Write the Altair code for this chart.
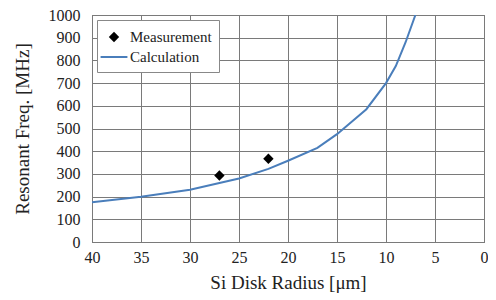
import altair as alt
import pandas as pd

# Calculation curve (radius in um, resonant frequency in MHz)
calc_radius = [40, 35, 30, 25, 22, 20, 17, 15, 12, 10, 9, 8, 7]
calc_freq = [175, 199, 230, 280, 322, 358, 415, 475, 585, 700, 775, 880, 1000]

# Measurements
meas_radius = [27, 22]
meas_freq = [293, 367]

series_names = ["Measurement", "Calculation"]
x_ticks = [0, 5, 10, 15, 20, 25, 30, 35, 40]
y_ticks = [0, 100, 200, 300, 400, 500, 600, 700, 800, 900, 1000]

LINE_COLOR = "#4a7ebb"
FONT = "'Liberation Serif', 'Times New Roman', Times, serif"
TEXT = "#222222"
DIAMOND = "M-0.6,0L0,-0.6L0.6,0L0,0.6Z"
DASH = "M-1.55,0H1.55"

calc = pd.DataFrame({"r": calc_radius, "f": calc_freq, "series": "Calculation"})
meas = pd.DataFrame({"r": meas_radius, "f": meas_freq, "series": "Measurement"})

axis_style = dict(
    labelFont=FONT,
    titleFont=FONT,
    labelFontSize=16,
    titleFontSize=19,
    titleFontWeight="normal",
    labelColor=TEXT,
    titleColor=TEXT,
    labelFlush=False,
    format="d",
)

x_enc = alt.X(
    "r:Q",
    scale=alt.Scale(domain=[0, 40], reverse=True, nice=False),
    axis=alt.Axis(values=x_ticks, title="Si Disk Radius [μm]", labelPadding=7, titlePadding=8, **axis_style),
)
y_enc = alt.Y(
    "f:Q",
    scale=alt.Scale(domain=[0, 1000], nice=False),
    axis=alt.Axis(values=y_ticks, title="Resonant Freq. [MHz]", labelPadding=12, titlePadding=16, **axis_style),
)


def make_legend():
    return alt.Legend(
        title=None,
        orient="none",
        legendX=5,
        legendY=5,
        padding=7,
        strokeColor="#888888",
        fillColor="white",
        symbolSize=300,
        symbolStrokeWidth=2,
        labelFont=FONT,
        labelFontSize=15,
        labelColor=TEXT,
        labelOffset=6,
        rowPadding=0,
    )


line = alt.Chart(calc).mark_line(color=LINE_COLOR, strokeWidth=2, clip=True).encode(x=x_enc, y=y_enc)

points = alt.Chart(meas).mark_point(opacity=1, size=300, strokeWidth=2).encode(
    x=x_enc,
    y=y_enc,
    fill=alt.Fill(
        "series:N",
        scale=alt.Scale(domain=series_names, range=["black", "transparent"]),
        legend=make_legend(),
    ),
    stroke=alt.Stroke(
        "series:N",
        scale=alt.Scale(domain=series_names, range=["transparent", LINE_COLOR]),
        legend=make_legend(),
    ),
    shape=alt.Shape(
        "series:N",
        scale=alt.Scale(domain=series_names, range=[DIAMOND, DASH]),
        legend=make_legend(),
    ),
)

chart = (
    alt.layer(line, points)
    .properties(
        width=392,
        height=227,
        autosize=alt.AutoSizeParams(type="none"),
        padding={"left": 84, "top": 7, "right": 4, "bottom": 56},
    )
    .configure(font=FONT)
    .configure_view(stroke="#555555", strokeWidth=1)
    .configure_axis(
        grid=True,
        gridColor="#7a7a7a",
        gridWidth=1,
        gridOpacity=1,
        domain=False,
        ticks=False,
    )
)

chart.save("out.html", embed_options={"renderer": "svg", "actions": False})
